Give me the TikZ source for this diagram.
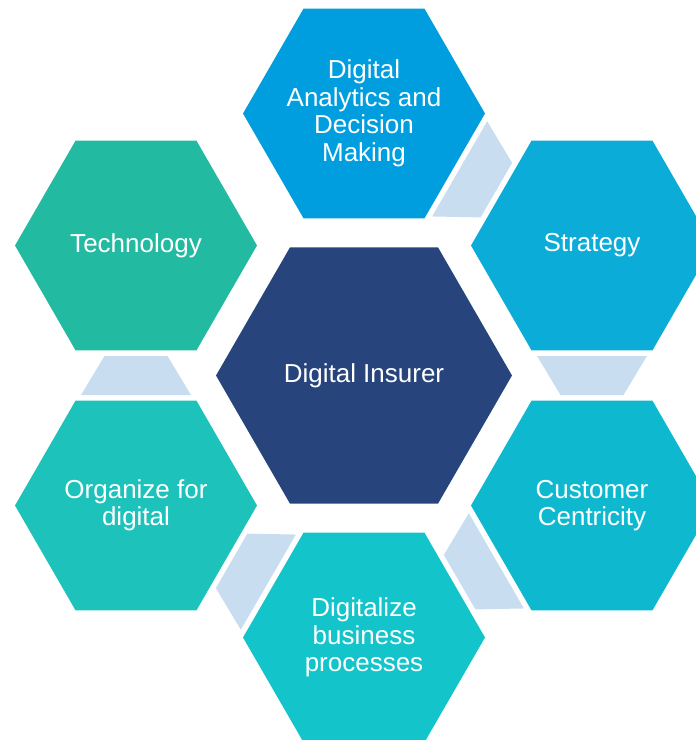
\documentclass[tikz,border=0pt]{standalone}
\usepackage{fontspec}
\setmainfont{Liberation Sans}
\usetikzlibrary{shapes.geometric,calc}

\definecolor{hexTop}{HTML}{009EDE}
\definecolor{hexStrat}{HTML}{0BACD8}
\definecolor{hexCust}{HTML}{0EB9D0}
\definecolor{hexProc}{HTML}{13C4CA}
\definecolor{hexOrg}{HTML}{1DC3BA}
\definecolor{hexTech}{HTML}{22BAA0}
\definecolor{hexCore}{HTML}{27447C}
\definecolor{linkblue}{HTML}{C8DDF0}

% trapezoid joining two neighbouring cells of the ring
\newcommand\hexlink[2]{%
  \coordinate (lk-a) at ($(#1.center)!110.5pt!(#2.center)$);
  \coordinate (lk-b) at ($(#2.center)!110.5pt!(#1.center)$);
  \fill[linkfill] ($(lk-a)!55pt!90:(#2.center)$) -- ($(lk-a)!55pt!-90:(#2.center)$)
     -- ($(lk-b)!31.5pt!90:(#1.center)$) -- ($(lk-b)!31.5pt!-90:(#1.center)$) -- cycle;
}

\begin{document}
\begin{tikzpicture}[x=1pt,y=-1pt,
  hexcell/.style={regular polygon, regular polygon sides=6, minimum size=242pt,
    inner sep=0pt, outer sep=0pt, draw=none},
  corecell/.style={hexcell, minimum size=296pt},
  hexlabel/.style={text=white, align=center, inner sep=0pt,
    font=\fontsize{26}{27.5}\selectfont},
  linkfill/.style={fill=linkblue}]
\useasboundingbox (0,0) rectangle (696,740);
\clip (0,0) rectangle (696,740);

% cells
\node[corecell, fill=hexCore] (core)  at (364,375.5) {};
\node[hexcell, fill=hexTop]   (top)   at (364,113.5) {};
\node[hexcell, fill=hexStrat] (strat) at (592,245.5) {};
\node[hexcell, fill=hexCust]  (cust)  at (592,505.5) {};
\node[hexcell, fill=hexProc]  (proc)  at (364,637.5) {};
\node[hexcell, fill=hexOrg]   (org)   at (136,505.5) {};
\node[hexcell, fill=hexTech]  (tech)  at (136,245.5) {};

% links around the ring
\hexlink{top}{strat}
\hexlink{strat}{cust}
\hexlink{cust}{proc}
\hexlink{proc}{org}
\hexlink{org}{tech}

% labels
\node[hexlabel] (core-t)  at (core)  {Digital Insurer};
\node[hexlabel] (top-t)   at (top)   {Digital\\Analytics and\\Decision\\Making};
\node[hexlabel] (strat-t) at (strat) {Strategy};
\node[hexlabel] (cust-t)  at (cust)  {Customer\\Centricity};
\node[hexlabel] (proc-t)  at (proc)  {Digitalize\\business\\processes};
\node[hexlabel] (org-t)   at (org)   {Organize for\\digital};
\node[hexlabel] (tech-t)  at (tech)  {Technology};
\end{tikzpicture}
\end{document}
